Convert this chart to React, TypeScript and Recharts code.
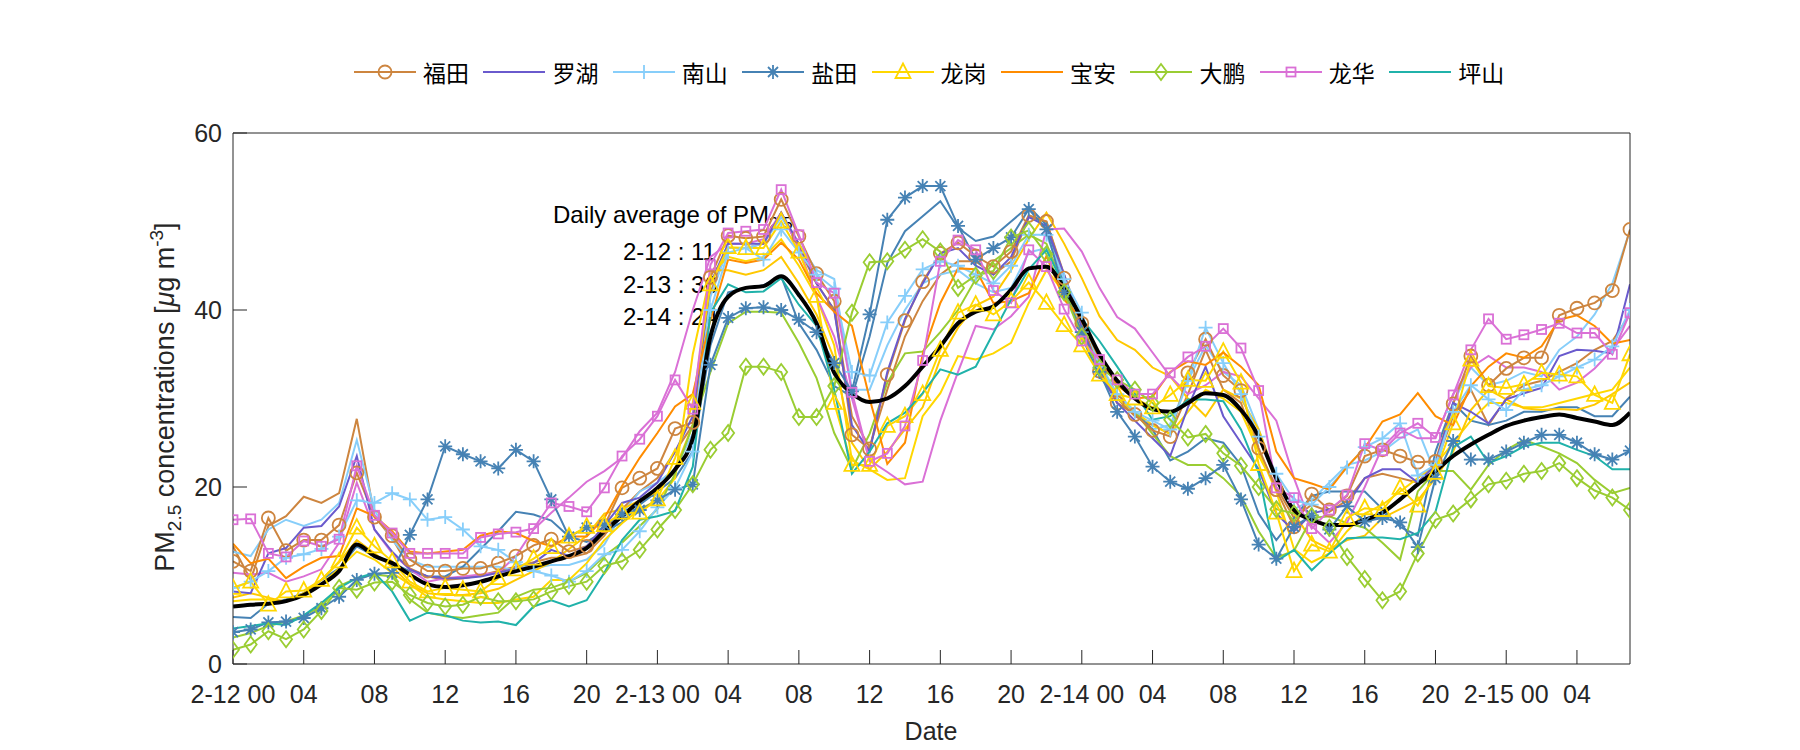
import React from 'react';
import { LineChart, Line, XAxis, YAxis } from 'recharts';

// hourly PM2.5, 2-12 00 .. 2-15 07 (80 hours)
const HOURS = Array.from({ length: 80 }, (_, i) => i);
const X_TICKS = [0, 4, 8, 12, 16, 20, 24, 28, 32, 36, 40, 44, 48, 52, 56, 60, 64, 68, 72, 76];
const X_TICK_LABELS = ['2-12 00', '04', '08', '12', '16', '20', '2-13 00', '04', '08', '12', '16', '20',
  '2-14 00', '04', '08', '12', '16', '20', '2-15 00', '04'];
const Y_TICKS = [0, 20, 40, 60];

const AVG = [6.5, 6.7, 6.8, 7.1, 7.8, 9.0, 10.5, 13.5, 12.2, 11.4, 10.1, 9.0, 8.7, 8.9, 9.3, 9.9,
  10.5, 11.0, 11.6, 12.2, 13.1, 15.0, 16.7, 18.4, 19.9, 22.0, 25.5, 37.0, 41.5, 42.5, 42.7, 43.8,
  41.7, 38.5, 32.9, 30.6, 29.6, 30.0, 31.4, 33.6, 35.9, 38.5, 39.8, 40.4, 42.3, 44.7, 44.9, 42.5,
  39.0, 35.0, 32.0, 30.0, 28.8, 28.5, 29.5, 30.6, 30.4, 28.7, 25.7, 21.0, 17.4, 16.3, 15.7, 15.7,
  16.3, 17.1, 18.6, 20.3, 21.8, 23.5, 24.8, 25.9, 26.9, 27.5, 27.9, 28.2, 27.8, 27.4, 27.0, 28.4];

const FUTIAN = [11.6, 10.5, 16.5, 12.8, 14.0, 14.0, 15.7, 21.6, 16.6, 14.5, 11.8, 10.5, 10.5, 10.8, 10.8, 11.4,
  12.2, 13.4, 14.1, 12.7, 13.3, 15.6, 19.9, 21.0, 22.1, 26.6, 27.3, 43.7, 48.4, 48.1, 48.3, 52.5,
  48.3, 44.1, 41.0, 25.9, 24.3, 32.7, 38.8, 43.2, 46.4, 47.6, 46.1, 44.9, 46.6, 50.7, 50.0, 43.6,
  38.5, 33.1, 29.5, 28.2, 26.4, 25.7, 32.9, 36.7, 32.6, 30.9, 24.4, 19.7, 15.5, 19.2, 17.4, 19.0,
  23.5, 24.2, 23.5, 22.8, 22.9, 29.4, 34.8, 31.5, 33.4, 34.6, 34.6, 39.4, 40.2, 40.8, 42.2, 49.1];

const LUOHU = [8.2, 8.0, 12.5, 13.1, 15.4, 15.6, 17.8, 23.5, 15.2, 12.7, 10.7, 9.9, 9.7, 9.7, 9.9, 10.3,
  10.8, 11.4, 12.9, 12.2, 13.3, 15.6, 18.2, 18.8, 20.5, 24.0, 28.0, 43.0, 47.5, 47.5, 47.5, 51.0,
  47.5, 43.0, 40.0, 27.0, 24.0, 33.0, 39.0, 43.0, 46.4, 47.0, 45.0, 44.0, 46.0, 50.5, 49.5, 44.0,
  38.0, 33.0, 29.5, 27.5, 25.5, 23.5, 29.0, 33.6, 28.0, 25.0, 22.0, 17.0, 15.0, 17.0, 17.5, 18.0,
  21.0, 22.0, 22.0, 20.5, 22.5, 29.5, 28.5, 27.2, 29.9, 30.6, 31.2, 34.8, 35.5, 35.4, 35.1, 42.9];

const NANSHAN = [8.6, 9.3, 10.5, 12.0, 12.4, 13.0, 14.4, 18.5, 18.2, 19.3, 18.6, 16.3, 16.6, 15.2, 13.3, 12.9,
  11.5, 10.5, 10.0, 9.3, 10.5, 12.4, 12.9, 15.0, 17.7, 19.9, 24.0, 40.0, 46.5, 47.0, 45.7, 49.1,
  46.5, 44.0, 42.4, 33.0, 32.6, 38.6, 41.6, 44.6, 45.5, 45.0, 44.0, 43.0, 45.0, 48.5, 48.5, 43.5,
  39.7, 33.5, 30.5, 28.5, 27.5, 26.5, 32.0, 38.0, 34.0, 30.5, 25.7, 21.5, 18.5, 18.0, 20.0, 22.2,
  24.5, 25.5, 27.2, 21.3, 22.5, 28.5, 31.5, 29.9, 28.7, 31.0, 31.5, 32.5, 33.5, 34.4, 35.9, 40.0];

const YANTIAN = [3.6, 3.9, 4.7, 4.8, 5.2, 6.3, 7.6, 9.5, 10.2, 10.3, 14.6, 18.6, 24.6, 23.7, 22.9, 22.1,
  24.2, 22.9, 18.6, 14.4, 15.4, 15.7, 16.9, 17.4, 18.5, 19.7, 20.3, 33.8, 39.1, 40.2, 40.3, 40.0,
  38.9, 37.5, 34.0, 30.8, 39.5, 50.2, 52.7, 54.0, 54.0, 49.5, 45.7, 47.0, 48.2, 51.4, 49.1, 42.0,
  37.5, 33.0, 28.5, 25.7, 22.3, 20.6, 19.8, 21.0, 22.5, 18.6, 13.5, 11.9, 15.5, 16.8, 15.2, 17.8,
  16.1, 16.5, 16.0, 13.2, 21.0, 25.2, 23.1, 23.1, 24.0, 25.0, 25.9, 25.9, 25.0, 23.7, 23.1, 24.1];

const LONGGANG = [8.6, 9.3, 6.7, 8.2, 8.3, 9.5, 11.6, 15.4, 13.3, 11.6, 9.3, 8.2, 8.6, 8.4, 8.2, 9.7,
  10.7, 11.9, 13.2, 14.4, 15.5, 15.7, 17.1, 17.1, 18.6, 23.3, 29.5, 42.9, 47.1, 47.0, 47.0, 50.0,
  46.6, 41.6, 29.5, 22.5, 22.5, 26.9, 28.0, 30.5, 35.5, 39.7, 40.6, 39.5, 41.0, 43.1, 40.8, 38.3,
  36.0, 32.7, 30.5, 30.0, 29.0, 30.4, 32.1, 32.0, 35.3, 31.8, 22.6, 17.1, 10.5, 13.5, 12.7, 16.5,
  17.6, 17.4, 19.9, 17.9, 21.6, 27.2, 34.4, 31.4, 31.2, 31.6, 32.9, 32.7, 32.5, 30.4, 29.5, 35.0];

const BAOAN = [13.6, 11.4, 11.9, 9.7, 11.0, 12.0, 12.2, 17.6, 16.7, 15.0, 12.7, 12.5, 12.7, 12.9, 14.5, 15.0,
  14.8, 13.9, 13.3, 14.4, 14.4, 16.5, 20.1, 23.3, 26.1, 29.1, 30.5, 38.9, 45.7, 45.3, 45.7, 47.6,
  45.7, 41.9, 39.8, 38.2, 30.0, 22.6, 25.0, 35.0, 40.8, 44.7, 44.6, 40.8, 41.0, 41.9, 46.1, 41.2,
  38.9, 34.5, 31.5, 30.0, 30.2, 33.0, 34.2, 33.8, 35.2, 33.6, 31.5, 24.0, 21.0, 20.4, 19.7, 22.3,
  24.4, 27.4, 28.2, 30.6, 28.0, 27.0, 31.4, 33.6, 35.1, 34.6, 35.9, 38.9, 39.4, 38.2, 36.2, 36.6];

const DAPENG = [1.6, 2.2, 3.7, 2.8, 3.9, 6.0, 8.6, 8.4, 9.2, 9.3, 7.8, 6.9, 6.5, 6.7, 7.6, 7.1,
  7.1, 7.3, 8.2, 8.8, 9.3, 11.1, 11.6, 12.9, 15.2, 17.4, 20.3, 24.2, 26.1, 33.6, 33.6, 33.0,
  27.9, 27.9, 31.4, 39.7, 45.4, 45.5, 46.8, 48.0, 46.6, 42.5, 43.9, 44.4, 48.2, 49.0, 46.3, 42.0,
  37.0, 33.5, 32.1, 31.0, 29.5, 27.6, 25.6, 26.0, 23.8, 22.4, 20.0, 17.5, 17.0, 16.7, 15.4, 12.1,
  9.6, 7.2, 8.2, 12.5, 16.3, 17.0, 18.6, 20.3, 20.7, 21.5, 21.8, 22.7, 21.0, 19.6, 18.8, 17.4];

const LONGHUA = [16.3, 16.4, 12.5, 12.1, 13.9, 13.3, 14.1, 22.4, 16.8, 14.8, 12.5, 12.5, 12.5, 12.5, 14.3, 14.7,
  14.9, 15.3, 18.2, 17.8, 17.2, 19.9, 23.5, 25.4, 28.0, 32.1, 28.8, 45.1, 48.7, 48.9, 49.1, 53.6,
  48.5, 43.1, 41.9, 30.7, 22.9, 23.8, 26.9, 34.3, 45.5, 47.9, 46.8, 42.2, 40.8, 46.8, 44.9, 40.1,
  36.5, 34.4, 32.1, 30.5, 30.5, 32.9, 34.7, 35.9, 37.9, 35.7, 30.9, 19.9, 18.8, 15.3, 17.4, 19.1,
  24.9, 24.1, 26.1, 27.2, 25.6, 30.4, 35.5, 39.0, 36.7, 37.2, 37.8, 38.5, 37.4, 37.4, 35.0, 39.7];

const PINGSHAN = [4.0, 4.3, 4.6, 4.4, 5.5, 6.9, 8.6, 9.7, 10.3, 8.2, 4.9, 5.8, 5.5, 4.9, 4.7, 4.8,
  4.4, 6.5, 7.2, 6.5, 7.2, 10.3, 14.0, 16.3, 16.7, 17.3, 22.3, 39.7, 42.9, 42.0, 42.1, 43.6,
  40.6, 38.2, 31.0, 21.5, 24.0, 27.2, 28.4, 30.6, 33.3, 32.7, 33.6, 37.4, 41.2, 44.6, 46.8, 42.7,
  39.0, 36.5, 33.6, 30.6, 27.6, 28.0, 29.9, 29.9, 29.7, 26.5, 21.6, 11.6, 12.9, 10.6, 12.5, 14.2,
  14.3, 14.3, 14.1, 14.8, 17.2, 24.5, 25.7, 22.7, 23.5, 24.6, 25.0, 25.0, 24.2, 23.5, 22.0, 22.0];

// second stations of some districts (no markers, not in legend)
const FUTIAN_2 = [13.3, 9.5, 15.6, 16.7, 18.9, 18.2, 19.3, 27.7, 16.7, 14.2, 10.8, 9.9, 9.5, 9.7, 10.0, 10.5,
  11.0, 11.5, 12.0, 12.0, 12.5, 14.5, 17.5, 19.5, 21.0, 24.0, 27.0, 42.0, 47.0, 47.0, 47.5, 51.0,
  47.0, 43.0, 40.0, 28.0, 24.5, 31.0, 37.0, 41.0, 44.0, 45.5, 45.5, 44.0, 45.5, 50.5, 50.0, 44.0,
  38.5, 33.5, 30.0, 28.0, 27.0, 26.0, 30.5, 35.5, 31.0, 29.5, 24.0, 20.0, 16.5, 18.0, 17.2, 18.5,
  21.0, 21.5, 21.0, 20.5, 22.5, 28.0, 31.0, 27.0, 30.0, 31.5, 32.0, 33.0, 34.0, 35.5, 36.5, 39.5];

const NANSHAN_2 = [12.7, 12.2, 15.2, 16.3, 15.6, 16.3, 18.2, 25.3, 17.4, 14.0, 11.8, 11.0, 11.0, 11.0, 11.0, 11.0,
  10.5, 10.8, 11.2, 11.2, 11.8, 13.5, 17.0, 19.5, 20.5, 22.0, 26.0, 41.5, 47.0, 47.0, 47.5, 50.5,
  47.5, 44.5, 43.5, 31.0, 31.0, 36.0, 40.0, 43.0, 44.0, 44.5, 43.0, 42.0, 42.5, 46.5, 47.0, 43.0,
  39.0, 34.0, 30.5, 28.5, 26.5, 27.0, 32.0, 36.0, 33.0, 31.5, 26.5, 21.0, 17.5, 18.5, 20.5, 22.5,
  23.0, 24.0, 25.5, 26.5, 21.5, 29.5, 33.5, 31.5, 32.0, 33.0, 32.5, 35.5, 37.0, 39.5, 43.0, 49.0];

const YANTIAN_2 = [5.3, 5.2, 6.8, 7.3, 8.0, 9.5, 10.8, 13.3, 12.2, 11.4, 10.5, 9.9, 9.9, 11.0, 13.0, 15.0,
  17.2, 16.9, 16.2, 14.4, 13.8, 15.0, 16.0, 18.0, 19.5, 21.0, 24.0, 36.0, 42.0, 42.5, 42.8, 43.8,
  38.5, 35.5, 31.4, 30.2, 37.0, 45.3, 48.9, 50.6, 52.3, 49.3, 47.8, 48.3, 50.0, 51.7, 49.6, 43.0,
  37.0, 32.5, 30.0, 28.5, 26.5, 23.0, 24.0, 25.5, 25.0, 22.5, 17.0, 14.0, 16.5, 19.0, 19.5, 19.5,
  19.5, 17.5, 15.5, 14.5, 24.0, 29.5, 27.5, 27.0, 27.5, 28.5, 28.5, 29.0, 29.0, 28.0, 28.0, 30.2];

const LONGGANG_2 = [7.1, 7.3, 7.3, 7.1, 7.8, 9.0, 10.8, 12.7, 11.8, 10.3, 9.0, 7.6, 7.3, 7.1, 6.9, 6.9,
  7.3, 7.6, 9.5, 9.5, 11.4, 14.0, 15.9, 17.5, 18.5, 21.0, 35.0, 44.0, 46.0, 45.5, 46.0, 48.0,
  45.0, 41.5, 36.0, 23.0, 22.0, 20.8, 21.0, 28.0, 30.6, 34.8, 34.4, 35.1, 36.3, 40.8, 44.5, 42.0,
  37.5, 33.5, 30.0, 28.5, 27.0, 26.0, 28.5, 31.0, 30.0, 28.5, 24.0, 19.5, 13.0, 11.5, 12.5, 15.0,
  17.0, 18.0, 19.5, 21.0, 22.5, 25.0, 27.5, 29.5, 29.5, 29.0, 29.0, 29.5, 30.0, 30.5, 31.0, 33.5];

const LONGGANG_3 = [7.5, 8.0, 7.5, 7.0, 8.0, 9.5, 11.5, 14.0, 12.5, 11.0, 9.0, 8.0, 7.8, 7.8, 8.0, 8.5,
  9.5, 10.5, 11.5, 13.0, 14.5, 17.0, 17.5, 18.5, 19.5, 22.0, 27.0, 44.5, 44.5, 44.0, 44.5, 46.0,
  43.0, 39.5, 34.5, 25.0, 22.0, 24.0, 26.5, 29.0, 34.5, 38.0, 40.5, 41.5, 44.5, 48.0, 51.0, 47.5,
  43.6, 39.3, 36.6, 35.5, 33.5, 32.5, 30.0, 28.0, 31.0, 30.0, 26.5, 21.0, 17.0, 14.0, 13.0, 14.0,
  14.5, 16.5, 17.5, 18.5, 21.0, 24.0, 28.7, 31.0, 29.9, 28.9, 28.7, 28.8, 28.7, 29.3, 30.5, 31.8];

const DAPENG_2 = [3.0, 3.5, 4.3, 4.8, 5.5, 6.5, 8.8, 9.7, 10.1, 9.9, 7.3, 5.8, 5.4, 5.2, 5.5, 5.8,
  7.6, 8.4, 8.6, 9.3, 10.3, 12.2, 13.7, 15.6, 17.5, 21.5, 27.0, 33.0, 38.5, 39.8, 39.8, 39.7,
  36.3, 32.3, 26.1, 22.0, 26.0, 31.8, 35.1, 35.3, 37.5, 40.0, 43.5, 45.5, 47.0, 48.5, 47.5, 42.5,
  37.5, 33.5, 30.5, 28.5, 26.0, 23.5, 22.5, 22.5, 21.0, 19.0, 15.0, 12.0, 12.8, 16.5, 16.7, 15.9,
  15.4, 13.7, 11.8, 19.5, 21.8, 21.8, 19.7, 22.5, 24.2, 25.3, 24.6, 23.8, 22.7, 20.8, 19.3, 19.9];

const LONGHUA_2 = [10.3, 10.1, 10.3, 9.3, 9.9, 10.7, 13.7, 20.5, 15.2, 12.5, 10.7, 9.3, 9.7, 9.9, 10.1, 10.3,
  12.2, 15.2, 17.1, 18.8, 20.6, 21.8, 23.3, 26.3, 28.4, 33.0, 40.0, 46.0, 47.5, 47.5, 48.0, 51.0,
  47.0, 41.5, 37.0, 30.0, 23.0, 21.7, 20.3, 20.6, 27.5, 33.0, 38.2, 37.8, 39.3, 41.5, 49.1, 49.2,
  46.6, 42.5, 39.2, 37.9, 35.2, 32.5, 30.5, 31.5, 33.0, 32.5, 30.0, 27.5, 21.0, 15.6, 13.7, 16.0,
  20.0, 24.5, 26.5, 25.5, 25.5, 30.5, 33.5, 34.8, 33.5, 33.5, 33.0, 31.0, 31.8, 33.4, 35.5, 38.2];

const FONT = '"Liberation Sans", Arial, sans-serif';
const CJK = '"Noto Sans CJK SC", sans-serif';
const AX = '#262626';

type Shape = 'circle' | 'plus' | 'star' | 'triangle' | 'diamond' | 'square' | 'none';

const MAIN = [
  { key: 'futian', name: '福田', values: FUTIAN, color: '#cd853f', shape: 'circle' as Shape },
  { key: 'luohu', name: '罗湖', values: LUOHU, color: '#6a5acd', shape: 'none' as Shape },
  { key: 'nanshan', name: '南山', values: NANSHAN, color: '#87cefa', shape: 'plus' as Shape },
  { key: 'yantian', name: '盐田', values: YANTIAN, color: '#4682b4', shape: 'star' as Shape },
  { key: 'longgang', name: '龙岗', values: LONGGANG, color: '#ffd700', shape: 'triangle' as Shape },
  { key: 'baoan', name: '宝安', values: BAOAN, color: '#ff8c00', shape: 'none' as Shape },
  { key: 'dapeng', name: '大鹏', values: DAPENG, color: '#9acd32', shape: 'diamond' as Shape },
  { key: 'longhua', name: '龙华', values: LONGHUA, color: '#da70d6', shape: 'square' as Shape },
  { key: 'pingshan', name: '坪山', values: PINGSHAN, color: '#20b2aa', shape: 'none' as Shape },
];

const EXTRA = [
  { key: 'futian2', values: FUTIAN_2, color: '#cd853f' },
  { key: 'nanshan2', values: NANSHAN_2, color: '#87cefa' },
  { key: 'yantian2', values: YANTIAN_2, color: '#4682b4' },
  { key: 'longgang2', values: LONGGANG_2, color: '#ffd700' },
  { key: 'longgang3', values: LONGGANG_3, color: '#ffc800' },
  { key: 'dapeng2', values: DAPENG_2, color: '#9acd32' },
  { key: 'longhua2', values: LONGHUA_2, color: '#da70d6' },
];

const rows = HOURS.map((h, i) => {
  const row: Record<string, number> = { h, avg: AVG[i] };
  MAIN.forEach(s => { row[s.key] = s.values[i]; });
  EXTRA.forEach(s => { row[s.key] = s.values[i]; });
  return row;
});

function Marker({ shape, x, y, color }: { shape: Shape; x: number; y: number; color: string }) {
  const sw = 1.8;
  switch (shape) {
    case 'circle':
      return <circle cx={x} cy={y} r={6.5} fill="none" stroke={color} strokeWidth={sw} />;
    case 'plus':
      return <path d={`M${x - 7},${y}H${x + 7}M${x},${y - 7}V${y + 7}`} stroke={color} strokeWidth={sw} fill="none" />;
    case 'star':
      return (
        <path
          d={`M${x - 7},${y}H${x + 7}M${x},${y - 7}V${y + 7}M${x - 5},${y - 5}L${x + 5},${y + 5}M${x - 5},${y + 5}L${x + 5},${y - 5}`}
          stroke={color} strokeWidth={sw} fill="none" />
      );
    case 'triangle':
      return <polygon points={`${x},${y - 8.5} ${x - 7.5},${y + 6} ${x + 7.5},${y + 6}`} fill="none" stroke={color} strokeWidth={sw} />;
    case 'diamond':
      return <polygon points={`${x},${y - 8} ${x + 6},${y} ${x},${y + 8} ${x - 6},${y}`} fill="none" stroke={color} strokeWidth={sw} />;
    case 'square':
      return <rect x={x - 4.5} y={y - 4.5} width={9} height={9} fill="none" stroke={color} strokeWidth={sw} />;
    default:
      return null;
  }
}

const dotFor = (shape: Shape, color: string) => (p: any) => (
  <g key={`d${p.index}`}>
    {p.cx != null && p.cy != null ? <Marker shape={shape} x={p.cx} y={p.cy} color={color} /> : null}
  </g>
);

function LegendRow() {
  return (
    <div style={{ position: 'absolute', left: 0, top: 57, width: 1800, height: 30 }}>
      {MAIN.map((s, i) => (
        <div key={s.key} style={{ position: 'absolute', left: 354 + i * 129.4, top: 0, height: 30, display: 'flex', alignItems: 'center' }}>
          <svg width={62} height={30}>
            <line x1={0} x2={62} y1={15} y2={15} stroke={s.color} strokeWidth={2.2} />
            <Marker shape={s.shape} x={31} y={15} color={s.color} />
          </svg>
          <span style={{ marginLeft: 7, fontFamily: CJK, fontSize: 23, color: '#000', lineHeight: '30px' }}>{s.name}</span>
        </div>
      ))}
    </div>
  );
}

export default function App() {
  return (
    <div style={{ position: 'absolute', left: 0, top: 0, width: 1800, height: 750, background: '#fff', overflow: 'hidden' }}>
      {/* annotation sits under the lines */}
      <svg width={1800} height={750} style={{ position: 'absolute', left: 0, top: 0 }}>
        <defs>
          <clipPath id="avgClip">
            <rect x={0} y={230} width={716} height={110} />
          </clipPath>
        </defs>
        <text x={553} y={223} fontFamily={FONT} fontSize={24} fill="#000">
          Daily average of PM<tspan fontSize={17} dy={6}>2.5</tspan>
        </text>
        <g clipPath="url(#avgClip)" fontFamily={FONT} fontSize={24} fill="#000">
          <text x={623} y={260}>2-12 : 11.2</text>
          <text x={623} y={292.5}>2-13 : 36.9</text>
          <text x={623} y={324.5}>2-14 : 24.7</text>
        </g>
      </svg>

      <div style={{ position: 'absolute', left: 0, top: 0 }}>
        <LineChart width={1800} height={750} data={rows} margin={{ top: 132, right: 169, bottom: 26, left: 173 }}>
          <XAxis dataKey="h" type="number" domain={[0, 79]} allowDataOverflow ticks={X_TICKS} interval={0}
            tickFormatter={(v: number) => X_TICK_LABELS[X_TICKS.indexOf(v)] ?? ''}
            height={60} tickSize={-14} tickMargin={35} stroke={AX}
            tick={{ fill: AX, fontSize: 25, fontFamily: FONT }} />
          <XAxis xAxisId="top" orientation="top" dataKey="h" type="number" domain={[0, 79]} allowDataOverflow
            ticks={X_TICKS} interval={0} height={1} tickSize={-14} tick={false} stroke={AX} />
          <YAxis type="number" domain={[0, 60]} ticks={Y_TICKS} interval={0} width={60} tickSize={-14} tickMargin={25}
            stroke={AX} tick={{ fill: AX, fontSize: 25, fontFamily: FONT }} />
          <YAxis yAxisId="right" orientation="right" type="number" domain={[0, 60]} ticks={Y_TICKS} interval={0}
            width={1} tickSize={-14} tick={false} stroke={AX} />

          {EXTRA.map(s => (
            <Line key={s.key} dataKey={s.key} stroke={s.color} strokeWidth={2} dot={false} activeDot={false}
              type="linear" isAnimationActive={false} />
          ))}
          {MAIN.map(s => (
            <Line key={s.key} dataKey={s.key} name={s.name} stroke={s.color} strokeWidth={2}
              dot={s.shape === 'none' ? false : dotFor(s.shape, s.color)} activeDot={false}
              type="linear" isAnimationActive={false} />
          ))}
          <Line dataKey="avg" stroke="#000" strokeWidth={4} dot={false} activeDot={false} type="monotone" isAnimationActive={false} />
        </LineChart>
      </div>

      <LegendRow />

      {/* axis titles */}
      <svg width={1800} height={750} style={{ position: 'absolute', left: 0, top: 0, pointerEvents: 'none' }}>
        <text x={931} y={740} textAnchor="middle" fontFamily={FONT} fontSize={25} fill={AX}>Date</text>
        <text transform="translate(174,397) rotate(-90)" textAnchor="middle" fontFamily={FONT} fontSize={27} fill={AX}>
          PM<tspan fontSize={19} dy={7}>2.5</tspan><tspan dy={-7}> concentrations [</tspan><tspan fontStyle="italic">μ</tspan>g m<tspan fontSize={19} dy={-11}>-3</tspan><tspan dy={11}>]</tspan>
        </text>
      </svg>
    </div>
  );
}
